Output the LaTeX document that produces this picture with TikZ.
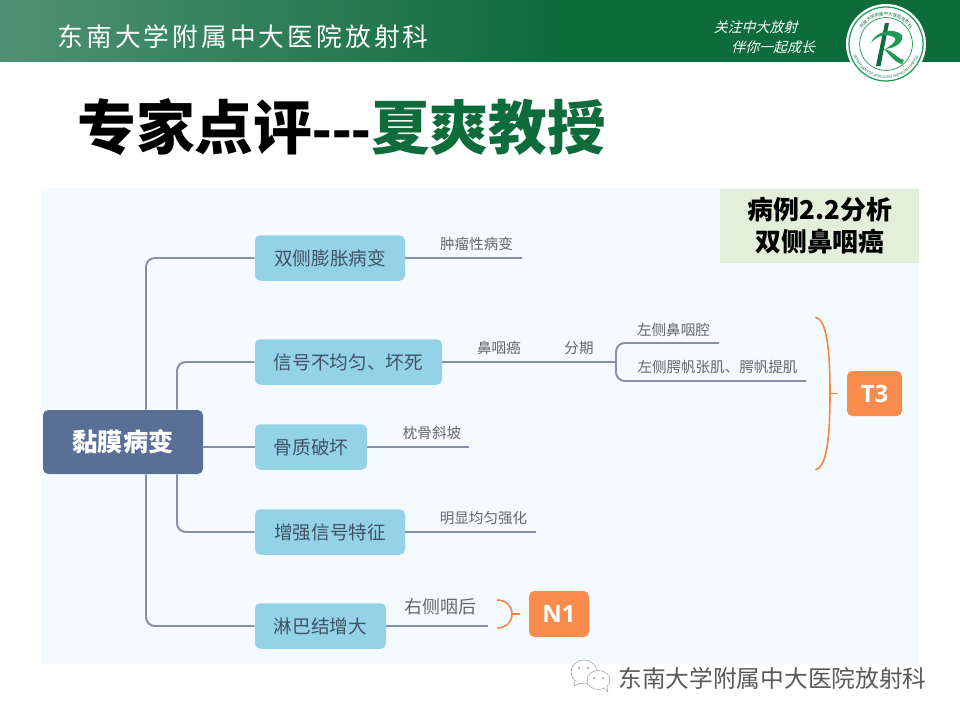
\documentclass[tikz,border=0pt]{standalone}
\usepackage{fontspec}
\usepackage{xcolor}
\usetikzlibrary{positioning,calc,decorations.text}
\setmainfont{Noto Sans CJK SC}
\newfontfamily\headfont[LetterSpace=12]{Noto Sans CJK SC}
\newfontfamily\latinfont{Liberation Sans}
\newfontfamily\stagefont{Open Sans}
\definecolor{headGreen}{HTML}{0E6B3C}
\definecolor{headPale}{HTML}{4F9273}
\definecolor{panelBg}{HTML}{F5FAFF}
\definecolor{caseBg}{HTML}{E2EFDA}
\definecolor{rootBlue}{HTML}{5A6F96}
\definecolor{topicBlue}{HTML}{94D2E8}
\definecolor{topicText}{HTML}{3F5262}
\definecolor{branchGrey}{HTML}{8390A8}
\definecolor{noteGrey}{HTML}{666666}
\definecolor{stageOrange}{HTML}{F98C4C}
\definecolor{braceOrange}{HTML}{F8843F}
\definecolor{logoGreen}{HTML}{1C9A55}
% one unit is one pixel of the 960x720 slide
\newcommand{\pxsize}[2]{\fontsize{\dimexpr#1pt*567/1000\relax}{\dimexpr#2pt*567/1000\relax}\selectfont}

\begin{document}
\begin{tikzpicture}[
    x=0.02cm, y=-0.02cm,
    rootCard/.style={rectangle, rounded corners=3pt, fill=rootBlue, text=white, font=\pxsize{25.3}{30}\bfseries, minimum width=160*0.02cm, minimum height=64*0.02cm, inner sep=0pt},
    topicCard/.style={rectangle, rounded corners=3pt, fill=topicBlue, text=topicText, font=\pxsize{18.7}{22}, minimum height=45.5*0.02cm, inner sep=0pt},
    stageCard/.style={rectangle, rounded corners=3pt, fill=stageOrange, text=white, font=\pxsize{24}{28}\stagefont\bfseries, inner sep=0pt},
    noteText/.style={text=noteGrey, font=\pxsize{14.6}{18}, inner sep=0pt},
    sloganText/.style={text=white, font=\pxsize{14}{16}, xslant=0.25, transform shape, inner sep=0pt},
    branch/.style={draw=branchGrey, line width=1.1pt, rounded corners=5pt},
    brace/.style={draw=braceOrange, line width=0.9pt},
    bubble/.style={draw=black!50, line width=0.2pt, fill=white}
]
    \useasboundingbox (0,0) rectangle (960,720);

    % slide frame
    \fill[left color=headPale, right color=headGreen] (0,0) rectangle (560,62);
    \fill[headGreen] (560,0) rectangle (960,62);
    \fill[white] (0,62) rectangle (960,70);
    \node[text=white, font=\pxsize{25.8}{30}\headfont, inner sep=0pt] (dept) at (243,37) {东南大学附属中大医院放射科};
    \node[sloganText] (slogan1) at (757,27) {关注中大放射};
    \node[sloganText] (slogan2) at (774.5,47) {伴你一起成长};

    % logo
    \fill[white] (886,44) circle [radius=40*0.02cm];
    \draw[logoGreen, line width=0.7pt] (886,44) circle [radius=37*0.02cm];
    \draw[logoGreen, line width=0.4pt] (886,44) circle [radius=26.5*0.02cm];
    \begin{scope}[shift={(886,44)}, y=0.02cm]
        \path[decorate, decoration={text along path, text color=headGreen, text align=center, text={|\pxsize{4.4}{5}|东南大学附属中大医院放射科}}] (150:28.5) arc (150:30:28.5);
        \path[decorate, decoration={text along path, text color=headGreen, text align=center, text={|\pxsize{3.6}{4}|DEPARTMENT OF RADIOLOGY ZHONGDA HOSPITAL}}] (170:34.5) arc (170:370:34.5);
    \end{scope}
    \fill[headGreen] (889,23) -- (885,23) -- (876,66) -- (880.5,66) -- cycle;
    \fill[logoGreen] (871,43) .. controls (874,33) and (892,26) .. (902,35) .. controls (904,42) and (896,48) .. (885,49) .. controls (892,45) and (897,41) .. (895,38) .. controls (888,33) and (877,35) .. (871,43) -- cycle;
    \fill[logoGreen] (884,49) .. controls (892,50) and (896,58) .. (904,60) -- (902,64) .. controls (894,62) and (890,55) .. (884,49) -- cycle;

    % title
    \node[anchor=west, text=black, font=\pxsize{59}{64}\bfseries, inner sep=0pt] (title) at (77,127) {专家点评{\latinfont -{}-{}-}\textcolor{headGreen}{夏爽教授}};

    % panel
    \fill[panelBg] (41,188) rectangle (919,664);
    \fill[caseBg] (720,189) rectangle (919,263);
    \node[text=black, font=\pxsize{26}{32}\bfseries, align=center, inner sep=0pt] (caseTag) at (820,226) {病例2.2分析\\双侧鼻咽癌};

    % nodes
    \node[rootCard] (root) at (123,442) {黏膜病变};
    \node[topicCard, minimum width=150*0.02cm] (bulge) at (330,258) {双侧膨胀病变};
    \node[topicCard, minimum width=187*0.02cm] (signal) at (348.5,362) {信号不均匀、坏死};
    \node[topicCard, minimum width=112*0.02cm] (bone) at (311,447) {骨质破坏};
    \node[topicCard, minimum width=150*0.02cm] (enhance) at (330,532) {增强信号特征};
    \node[topicCard, minimum width=131*0.02cm] (lymph) at (320.5,626) {淋巴结增大};
    \node[stageCard, minimum width=55*0.02cm, minimum height=45*0.02cm] (t3) at (874.5,393.5) {T3};
    \node[stageCard, minimum width=60*0.02cm, minimum height=46*0.02cm] (n1) at (559,614) {N1};

    % free ends of the branches
    \coordinate (bulgeEnd) at (522,258);
    \coordinate (signalFork) at (616,362);
    \coordinate (cavityEnd) at (719,343);
    \coordinate (muscleEnd) at (806,381);
    \coordinate (boneEnd) at (469,447);
    \coordinate (enhanceEnd) at (536,532);
    \coordinate (lymphEnd) at (488,626);

    % trunks
    \draw[branch] (root.north -| 146,0) |- (bulge.west);
    \draw[branch] (root.north -| 177,0) |- (signal.west);
    \draw[branch] (root.south -| 146,0) |- (lymph.west);
    \draw[branch] (root.south -| 177,0) |- (enhance.west);
    \draw[branch] (root.east |- bone.west) -- (bone.west);

    % second level
    \draw[branch] (bulge.east) -- (bulgeEnd);
    \draw[branch] (signal.east) -- (signalFork);
    \draw[branch] (signalFork) |- (cavityEnd);
    \draw[branch] (signalFork) |- (muscleEnd);
    \draw[branch] (bone.east) -- (boneEnd);
    \draw[branch] (enhance.east) -- (enhanceEnd);
    \draw[branch] (lymph.east) -- (lymphEnd);

    % notes
    \node[noteText] (tumor) at (476.5,244) {肿瘤性病变};
    \node[noteText] (npc) at (499,348) {鼻咽癌};
    \node[noteText] (staging) at (579,348) {分期};
    \node[noteText] (cavity) at (673.5,329.5) {左侧鼻咽腔};
    \node[noteText] (muscle) at (717.5,367) {左侧腭帆张肌、腭帆提肌};
    \node[noteText] (clivus) at (432,433) {枕骨斜坡};
    \node[noteText] (uniform) at (483.5,518) {明显均匀强化};
    \node[noteText, font=\pxsize{18}{22}] (retro) at (440.5,607) {右侧咽后};

    % braces
    \coordinate (t3Tick) at (838,393.5);
    \coordinate (n1Tick) at (520,614);
    \draw[brace] (815.5,317) .. controls (826,320) and (830,345) .. (830,393.5) .. controls (830,442) and (826,467) .. (815.5,470);
    \draw[brace] (830,393.5) -- (t3Tick);
    \draw[brace] (497,600) .. controls (506,600) and (512,606) .. (512,614) .. controls (512,622) and (506,628) .. (497,628);
    \draw[brace] (512,614) -- (n1Tick);

    % watermark
    \draw[bubble] (584,672) ellipse [x radius=13*0.02cm, y radius=12*0.02cm];
    \draw[bubble] (575,681) -- (574,686) -- (581,683);
    \draw[bubble] (598.5,680) ellipse [x radius=11.5*0.02cm, y radius=9.5*0.02cm];
    \draw[bubble] (604,688) -- (608,692) -- (607,686);
    \foreach \eyeX/\eyeY in {579/668, 588/668, 594/678, 603/678}
        \fill[black!45] (\eyeX,\eyeY) circle [radius=1*0.02cm];
    \node[anchor=west, text=black!65, font=\pxsize{23.8}{28}, inner sep=0pt] (mark) at (618,678) {东南大学附属中大医院放射科};
\end{tikzpicture}
\end{document}
